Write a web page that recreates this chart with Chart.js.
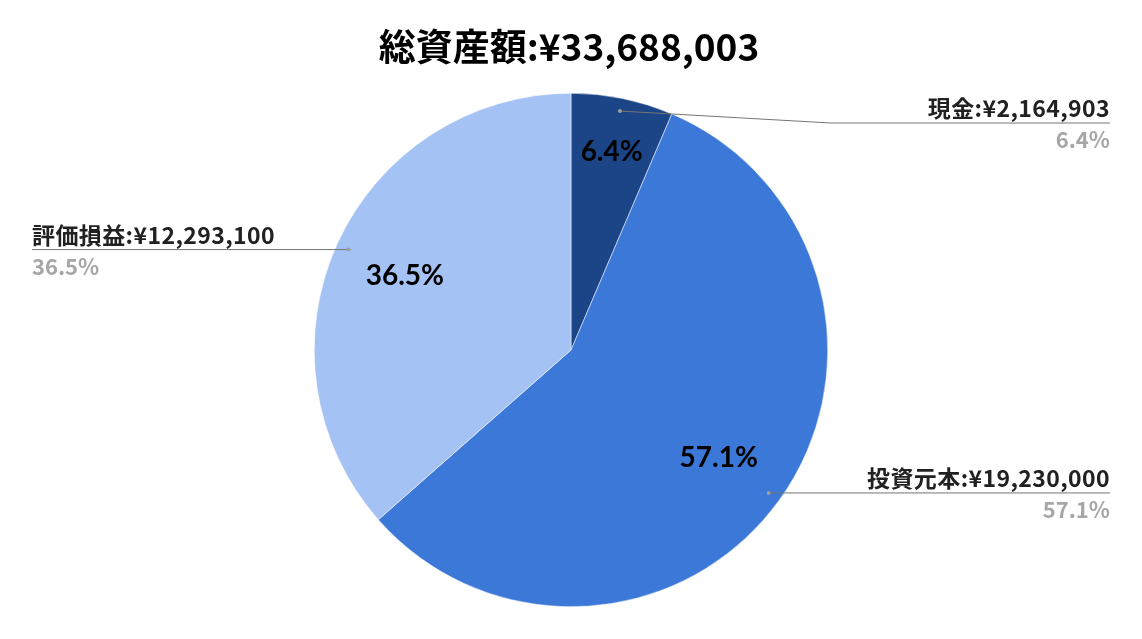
<!DOCTYPE html>
<html>
<head>
<meta charset="utf-8">
<script src="https://cdn.jsdelivr.net/npm/chart.js@4/dist/chart.umd.min.js"></script>
<style>
html,body{margin:0;padding:0;background:#fff;}
#wrap{width:1142px;height:639px;position:relative;}
</style>
</head>
<body>
<div id="wrap"><canvas id="c" width="1142" height="639"></canvas></div>
<script>
const titleText = '総資産額:¥33,688,003';
const categories = ['現金', '投資元本', '評価損益'];
const values = [2164903, 19230000, 12293100];
const colors = ['#1c4587', '#3c78d8', '#a4c2f4'];

const total = values.reduce((a, b) => a + b, 0);
const pct = v => (v / total * 100).toFixed(1) + '%';
const yen = v => '¥' + v.toLocaleString('en-US');

const labelPlugin = {
  id: 'labels',
  afterDatasetsDraw(chart) {
    const ctx = chart.ctx;
    const meta = chart.getDatasetMeta(0);
    const W = chart.width;
    ctx.save();
    // title
    ctx.fillStyle = '#000';
    ctx.font = "bold 37px 'Noto Sans CJK JP'";
    ctx.textAlign = 'center';
    ctx.textBaseline = 'middle';
    ctx.fillText(titleText, W / 2 - 2, 47);

    meta.data.forEach((arc, i) => {
      const p = arc.getProps(['x', 'y', 'startAngle', 'endAngle', 'outerRadius'], true);
      const mid = (p.startAngle + p.endAngle) / 2;
      const r = p.outerRadius;
      const frac = values[i] / total;
      // inner percentage label
      const f = frac < 0.1 ? 0.79 : 0.71;
      ctx.font = "bold 28px Lato, 'Noto Sans'";
      ctx.fillStyle = '#000';
      ctx.textAlign = 'center';
      ctx.textBaseline = 'middle';
      ctx.fillText(pct(values[i]), p.x + Math.cos(mid) * r * f, p.y + Math.sin(mid) * r * f + 1);

      // leader
      const dx = p.x + Math.cos(mid) * r * 0.95;
      const dy = p.y + Math.sin(mid) * r * 0.95;
      const right = Math.cos(mid) >= 0;
      const lineY = Math.max(dy, 123);
      const endX = right ? 1110 : 32;
      ctx.strokeStyle = '#757575';
      ctx.lineWidth = 1;
      ctx.beginPath();
      ctx.moveTo(dx, dy);
      if (Math.abs(lineY - dy) > 1) {
        const ex = right ? p.x + r + 3 : p.x - r - 3;
        ctx.lineTo(ex, lineY);
      }
      ctx.lineTo(endX, lineY);
      ctx.stroke();
      ctx.fillStyle = '#9e9e9e';
      ctx.beginPath();
      ctx.arc(dx, dy, 2, 0, Math.PI * 2);
      ctx.fill();

      ctx.textAlign = right ? 'right' : 'left';
      ctx.textBaseline = 'alphabetic';
      ctx.fillStyle = '#212121';
      ctx.font = "bold 23px 'Noto Sans CJK JP'";
      ctx.letterSpacing = '0.4px';
      ctx.fillText(categories[i] + ':' + yen(values[i]), endX, lineY - 6);
      ctx.letterSpacing = '0px';
      ctx.fillStyle = '#a6a6a6';
      ctx.font = "bold 22px 'Noto Sans CJK JP'";
      ctx.fillText(pct(values[i]), endX, lineY + 25);
    });
    ctx.restore();
  }
};

new Chart(document.getElementById('c'), {
  type: 'pie',
  data: {
    labels: categories,
    datasets: [{
      data: values,
      backgroundColor: colors,
      borderColor: '#ffffff',
      borderWidth: 0.5
    }]
  },
  options: {
    responsive: false,
    animation: false,
    devicePixelRatio: 1,
    layout: { padding: { top: 93, bottom: 32, left: 0, right: 0 } },
    plugins: {
      legend: { display: false },
      tooltip: { enabled: false },
      title: { display: false }
    }
  },
  plugins: [labelPlugin]
});
</script>
</body>
</html>
